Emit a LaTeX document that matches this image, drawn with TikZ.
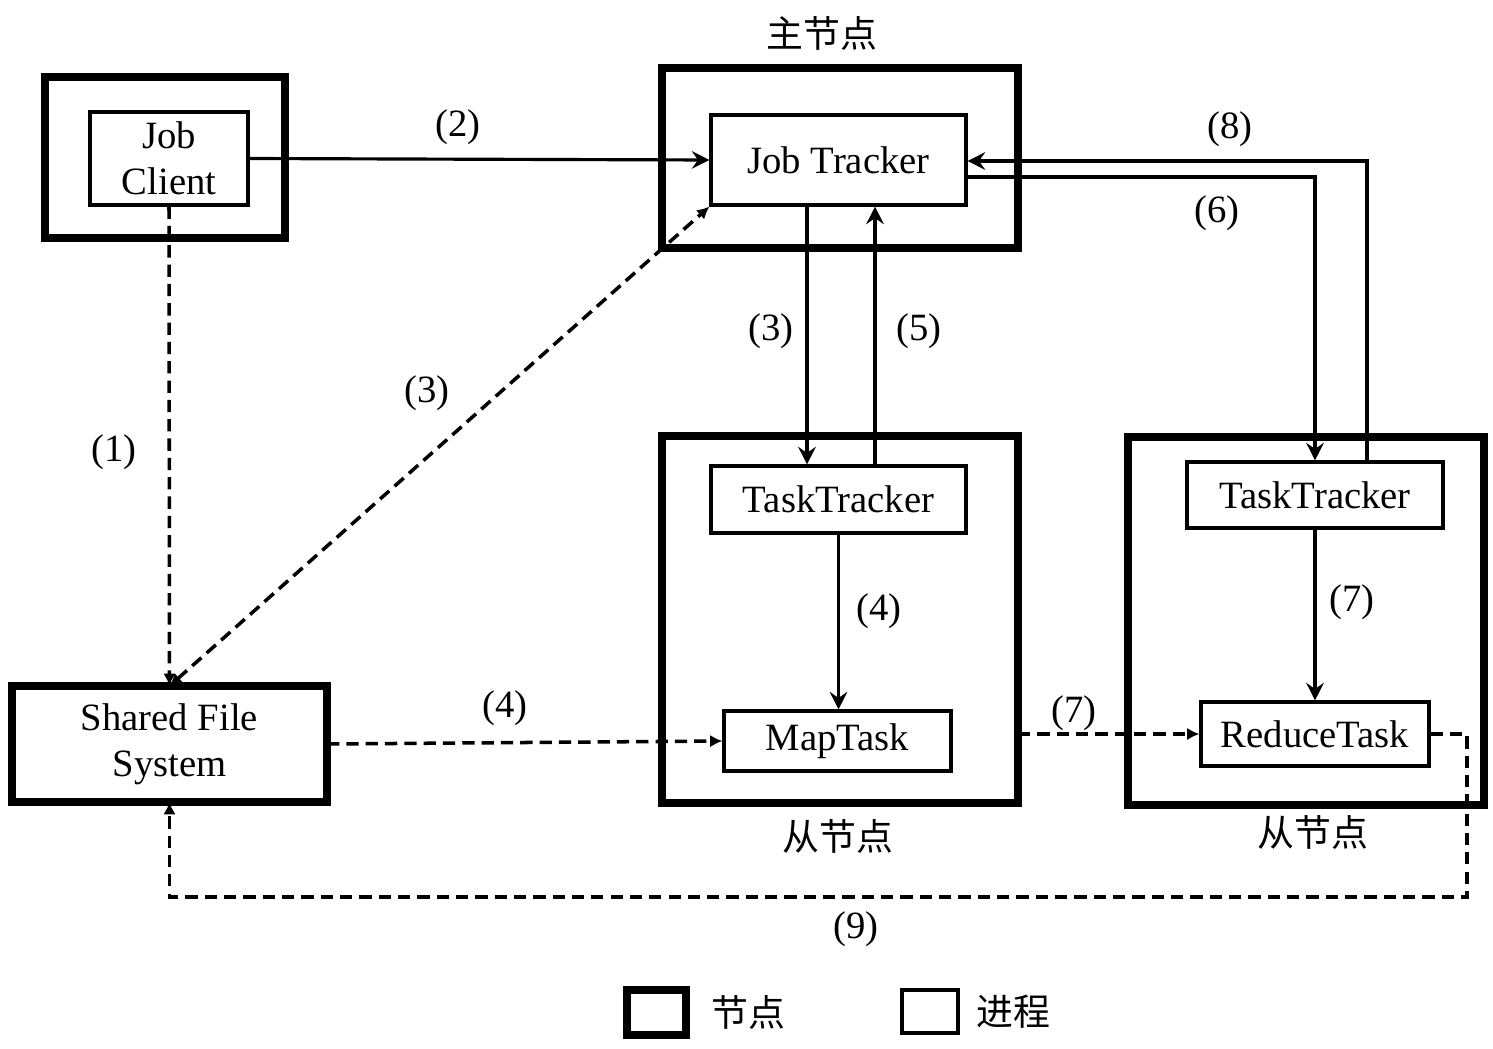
\documentclass[tikz,border=0pt]{standalone}
\usepackage{fontspec}
\setmainfont{Liberation Serif}
\newfontfamily\cjk{Noto Sans CJK SC}
\usetikzlibrary{arrows.meta,calc}
\begin{document}
\begin{tikzpicture}[x=0.02cm,y=-0.02cm,
  font=\fontsize{22}{26}\selectfont,
  nodebox/.style={draw,line width=4.6pt,inner sep=0pt,outer sep=0pt,align=center},
  procbox/.style={draw,line width=1.8pt,fill=white,inner sep=0pt,align=center},
  sarrow/.style={line width=1.8pt,-{Stealth[length=10pt,width=10pt,inset=3.5pt]}},
  darrow/.style={line width=2pt,dash pattern=on 7pt off 4pt,-{Latex[length=7pt,width=7pt]}},
  lbl/.style={inner sep=0pt},
  cjklbl/.style={inner sep=0pt,font=\cjk\fontsize{21}{24}\selectfont}]
\useasboundingbox (0,0) rectangle (1493,1048);
% node (machine) boxes
\node[nodebox,minimum width=4.8cm,minimum height=3.22cm] (jcn) at (165,157.5) {};
\node[nodebox,minimum width=7.12cm,minimum height=3.6cm] (jtn) at (840,158) {};
\node[nodebox,minimum width=7.12cm,minimum height=7.34cm] (mapn) at (840,619.5) {};
\node[nodebox,minimum width=7.12cm,minimum height=7.36cm] (redn) at (1306,621) {};
\node[nodebox,minimum width=6.3cm,minimum height=2.32cm] (fs) at (169.5,744) {Shared File\\System};
% process boxes
\node[procbox,minimum width=3.16cm,minimum height=1.86cm] (jc) at (169,158.5) {Job\\Client};
\node[procbox,minimum width=5.1cm,minimum height=1.8cm] (jt) at (838.5,160) {Job Tracker};
\node[procbox,minimum width=5.1cm,minimum height=1.34cm] (mtt) at (838.5,499.5) {TaskTracker};
\node[procbox,minimum width=4.54cm,minimum height=1.2cm] (mt) at (837.5,741) {MapTask};
\node[procbox,minimum width=5.12cm,minimum height=1.32cm] (rtt) at (1315,495) {TaskTracker};
\node[procbox,minimum width=4.56cm,minimum height=1.28cm] (rt) at (1315,734) {ReduceTask};
% node labels
\node[cjklbl] (lmain) at (822,33) {主节点};
\node[cjklbl] (lslave1) at (838,836) {从节点};
\node[cjklbl] (lslave2) at (1313,832) {从节点};
% helper coordinates
\coordinate (a3) at (807,0);
\coordinate (a5) at (875,0);
\coordinate (a8) at (1367,161);
\coordinate (a6) at (1315,177);
\coordinate (c9) at (1467,897);
% connectors
\draw[sarrow] (jc.east) -- (jt.west);
\draw[darrow] (jc.south) -- (fs.north);
\draw[darrow,{Latex[length=7pt,width=7pt]}-{Latex[length=7pt,width=7pt]}] (fs.north) -- (jt.south west);
\draw[sarrow] (jt.south -| a3) -- (mtt.north -| a3);
\draw[sarrow] (mtt.north -| a5) -- (jt.south -| a5);
\draw[sarrow] (rtt.north -| a8) |- (jt.east |- a8);
\draw[sarrow] (jt.east |- a6) -| (rtt.north);
\draw[sarrow] (mtt.south) -- (mtt.south |- mt.north);
\draw[darrow] (fs.east) -- (mt.west);
\draw[darrow] (mapn.east |- rt.west) -- (rt.west);
\draw[sarrow] (rtt.south) -- (rt.north);
\draw[darrow] (rt.east) -| (c9) -| (fs.south);
% step labels
\node[lbl] (l1) at (114,452) {(1)};
\node[lbl] (l2) at (458,127) {(2)};
\node[lbl] (l3a) at (427,393) {(3)};
\node[lbl] (l3b) at (771,331) {(3)};
\node[lbl] (l5) at (919,331) {(5)};
\node[lbl] (l8) at (1230,129) {(8)};
\node[lbl] (l6) at (1217,213) {(6)};
\node[lbl] (l4a) at (879,611) {(4)};
\node[lbl] (l4b) at (505,708) {(4)};
\node[lbl] (l7a) at (1074,713) {(7)};
\node[lbl] (l7b) at (1352,602) {(7)};
\node[lbl] (l9) at (856,929) {(9)};
% legend
\node[nodebox,minimum width=1.18cm,minimum height=0.9cm] (legn) at (656.5,1012.5) {};
\node[cjklbl] (legnt) at (748,1012) {节点};
\node[procbox,minimum width=1.12cm,minimum height=0.86cm] (legp) at (930,1011.5) {};
\node[cjklbl] (legpt) at (1013,1012) {进程};
\end{tikzpicture}
\end{document}
